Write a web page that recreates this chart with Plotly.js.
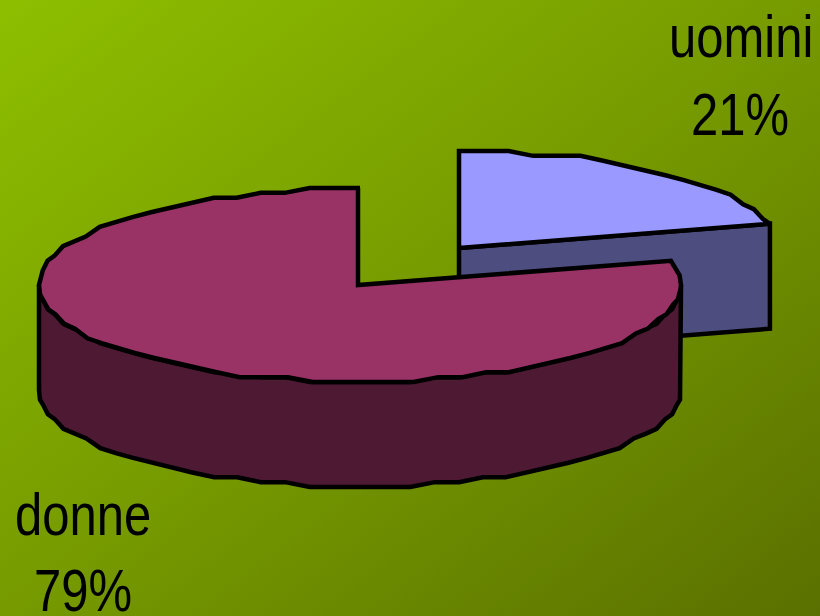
<!DOCTYPE html>
<html>
<head>
<meta charset="utf-8">
<script src="https://cdn.plot.ly/plotly-3.0.1.min.js"></script>
<style>
html,body{margin:0;padding:0;width:820px;height:616px;overflow:hidden}
#chart{width:820px;height:616px;background:linear-gradient(to bottom right,#8ebf00 0%,#769a00 50%,#5a7000 100%)}
</style>
</head>
<body>
<div id="chart"></div>
<script>
// Chart data
var categories = ["uomini", "donne"];
var shares = [21, 79];
var faceColors = ["#9999ff", "#993366"];
var sideColors = ["#4d4d80", "#4d1933"];
var percentLabels = ["21%", "79%"];

// Pie projection (pixels on a 820x616 axis)
var radiusX = 321, radiusY = 97, depth = 105, snap = 4.85;
var hubMen = [459, 248], hubWomen = [358, 285];
var rimShiftMen = 0, rimShiftWomen = 2;
var total = shares[0] + shares[1];
var splitDeg = 90 - 360 * shares[0] / total;

function rim(hub, shift, deg, drop) {
  var t = deg * Math.PI / 180;
  var y = hub[1] - radiusY * Math.sin(t);
  return [hub[0] + shift + radiusX * Math.cos(t),
          Math.round((y - hub[1]) / snap) * snap + hub[1] + drop];
}
function arc(hub, shift, from, to, drop) {
  var pts = [], n = Math.max(2, Math.round(Math.abs(to - from) / 4.5));
  for (var i = 0; i <= n; i++) pts.push(rim(hub, shift, from + (to - from) * i / n, drop));
  return pts;
}
function poly(pts, fill) {
  return {type: "scatter", mode: "lines", hoverinfo: "skip", showlegend: false,
    x: pts.map(function (p) { return p[0]; }),
    y: pts.map(function (p) { return p[1]; }),
    fill: "toself", fillcolor: fill,
    line: {color: "#000000", width: 4.5, shape: "linear"}};
}

// men wedge: 12 o'clock clockwise by its share
var menTip = rim(hubMen, rimShiftMen, splitDeg, 0);
var menCut = poly([hubMen, menTip, [menTip[0], menTip[1] + depth], [hubMen[0], hubMen[1] + depth], hubMen], sideColors[0]);
var menTop = poly([hubMen].concat(arc(hubMen, rimShiftMen, 90, splitDeg, 0)).concat([hubMen]), faceColors[0]);

// women wedge: the remainder, counter-clockwise from 12 o'clock
var wallTop = arc(hubWomen, rimShiftWomen, 180, 360, 0);
var wallBottom = arc(hubWomen, rimShiftWomen, 360, 180, depth);
var womenWall = poly(wallTop.concat(wallBottom).concat([wallTop[0]]), sideColors[1]);
var womenTop = poly([[hubWomen[0], hubWomen[1] - radiusY], hubWomen, rim(hubWomen, rimShiftWomen, splitDeg + 360, 0)]
  .concat(arc(hubWomen, rimShiftWomen, splitDeg + 360, 90, 0)), faceColors[1]);

var labelFont = {family: "'Liberation Sans',Arial,sans-serif", size: 49, color: "#000000"};
var labelStretch = 1.2;
function label(x, y, text) {
  return {x: x, y: y, yanchor: "middle", xanchor: "center", text: text, showarrow: false, font: labelFont};
}
var layout = {
  width: 820, height: 616,
  margin: {l: 0, r: 0, t: 0, b: 0},
  paper_bgcolor: "rgba(0,0,0,0)", plot_bgcolor: "rgba(0,0,0,0)",
  showlegend: false,
  xaxis: {range: [0, 820], visible: false, fixedrange: true},
  yaxis: {range: [616, 0], visible: false, fixedrange: true},
  annotations: [
    label(741, 40, categories[0]),
    label(740, 118, percentLabels[0]),
    label(83, 518, categories[1]),
    label(83, 594, percentLabels[1])
  ]
};
Plotly.newPlot("chart", [menCut, menTop, womenWall, womenTop], layout, {displayModeBar: false, staticPlot: true}).then(function (gd) {
  // the reference's lettering is taller than it is wide: stretch each label about its baseline
  gd.querySelectorAll(".annotation-text").forEach(function (t) {
    var b = parseFloat(t.getAttribute("y")) || 0;
    t.setAttribute("transform", "translate(0," + b + ") scale(1," + labelStretch + ") translate(0," + (-b) + ")");
  });
});
</script>
</body>
</html>
